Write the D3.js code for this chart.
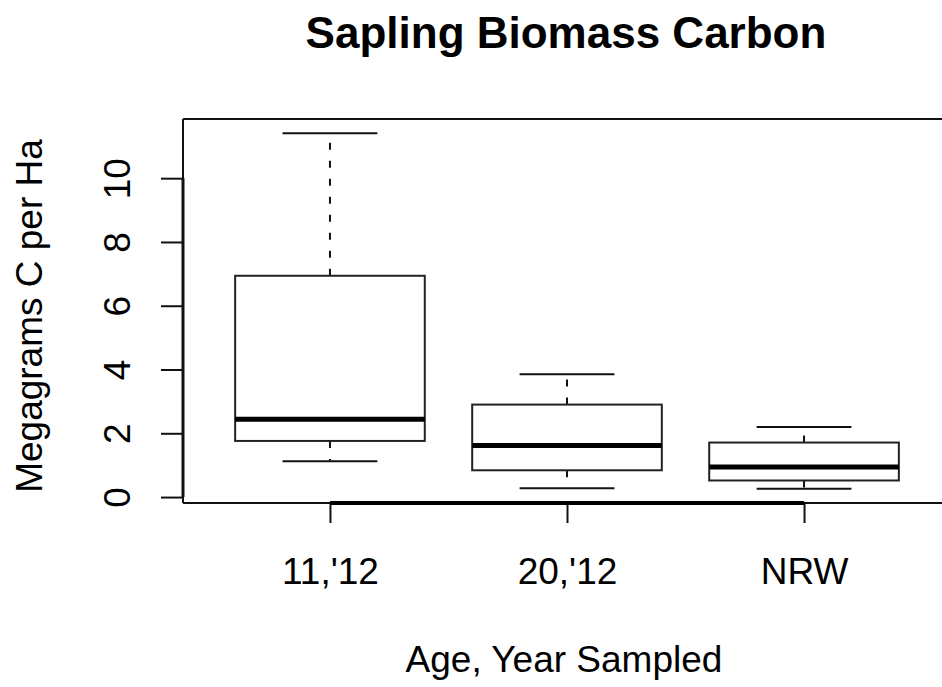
<!DOCTYPE html>
<html>
<head>
<meta charset="utf-8">
<script src="https://cdn.jsdelivr.net/npm/d3@7"></script>
<style>
  html, body { margin: 0; padding: 0; background: #fff; }
  svg { display: block; font-family: "Liberation Sans", Arial, Helvetica, sans-serif; }
</style>
</head>
<body>
<svg id="chart" width="942" height="687"></svg>
<script>
// ---- data ----
const categories = ["11,'12", "20,'12", "NRW"];
const whiskerLow  = [1.12, 0.28, 0.26];
const q1          = [1.76, 0.84, 0.52];
const median      = [2.44, 1.62, 0.94];
const q3          = [6.94, 2.90, 1.71];
const whiskerHigh = [11.41, 3.85, 2.20];
const yTicks = [0, 2, 4, 6, 8, 10];
const titleText = "Sapling Biomass Carbon";
const xTitle = "Age, Year Sampled";
const yTitle = "Megagrams C per Ha";

// ---- layout ----
const W = 942, H = 687;
const plotLeft = 183, plotRight = 951, plotTop = 119, plotBottom = 503;
const ink = "#111";

const svg = d3.select("#chart");

// R-style scales: 4% extension
const n = categories.length;
const x = d3.scaleLinear()
  .domain([0.5 - 0.04 * n, n + 0.5 + 0.04 * n])
  .range([plotLeft, plotRight]);

const yMin = d3.min(whiskerLow), yMax = d3.max(whiskerHigh);
const ext = 0.04 * (yMax - yMin);
const y = d3.scaleLinear()
  .domain([yMin - ext, yMax + ext])
  .range([plotBottom, plotTop]);

const data = categories.map((c, i) => ({
  cat: c, pos: i + 1,
  lo: whiskerLow[i], q1: q1[i], med: median[i], q3: q3[i], hi: whiskerHigh[i]
}));

const boxHalf = 0.4;   // boxwex 0.8
const stapleHalf = 0.2;

// ---- frame (box around plot) ----
const frame = svg.append("g").attr("stroke", ink).attr("fill", "none").attr("stroke-width", 2);
frame.append("line").attr("x1", plotLeft).attr("x2", plotRight).attr("y1", plotTop).attr("y2", plotTop);
frame.append("line").attr("x1", plotLeft).attr("x2", plotLeft).attr("y1", plotTop).attr("y2", plotBottom);
frame.append("line").attr("x1", plotLeft).attr("x2", plotRight).attr("y1", plotBottom).attr("y2", plotBottom);
frame.append("line").attr("x1", plotRight).attr("x2", plotRight).attr("y1", plotTop).attr("y2", plotBottom);

// ---- boxes ----
const g = svg.append("g").selectAll("g").data(data).join("g");

// whiskers (dashed)
g.append("line")
  .attr("x1", d => x(d.pos)).attr("x2", d => x(d.pos))
  .attr("y1", d => y(d.q3)).attr("y2", d => y(d.hi))
  .attr("stroke", ink).attr("stroke-width", 2).attr("stroke-dasharray", "7,11");
g.append("line")
  .attr("x1", d => x(d.pos)).attr("x2", d => x(d.pos))
  .attr("y1", d => y(d.q1)).attr("y2", d => y(d.lo))
  .attr("stroke", ink).attr("stroke-width", 2).attr("stroke-dasharray", "7,11");
// staples
g.append("line")
  .attr("x1", d => x(d.pos - stapleHalf)).attr("x2", d => x(d.pos + stapleHalf))
  .attr("y1", d => y(d.hi)).attr("y2", d => y(d.hi))
  .attr("stroke", ink).attr("stroke-width", 2);
g.append("line")
  .attr("x1", d => x(d.pos - stapleHalf)).attr("x2", d => x(d.pos + stapleHalf))
  .attr("y1", d => y(d.lo)).attr("y2", d => y(d.lo))
  .attr("stroke", ink).attr("stroke-width", 2);
// box
g.append("rect")
  .attr("x", d => x(d.pos - boxHalf))
  .attr("width", d => x(d.pos + boxHalf) - x(d.pos - boxHalf))
  .attr("y", d => y(d.q3))
  .attr("height", d => y(d.q1) - y(d.q3))
  .attr("fill", "#fff").attr("stroke", "#222").attr("stroke-width", 2);
// median
g.append("line")
  .attr("x1", d => x(d.pos - boxHalf)).attr("x2", d => x(d.pos + boxHalf))
  .attr("y1", d => y(d.med)).attr("y2", d => y(d.med))
  .attr("stroke", "#000").attr("stroke-width", 5);

// ---- y axis ----
const yAxis = d3.axisLeft(y).tickValues(yTicks).tickSize(22).tickFormat(d3.format("d"));
const yg = svg.append("g").attr("transform", `translate(${plotLeft},0)`).call(yAxis);
yg.select(".domain").remove();
yg.selectAll(".tick line").attr("stroke", ink).attr("stroke-width", 2);
yg.selectAll(".tick text")
  .attr("x", null).attr("dy", null)
  .attr("transform", "translate(-53,0) rotate(-90)")
  .attr("text-anchor", "middle")
  .attr("fill", "#000")
  .style("font-size", "37px").style("font-family", "'Liberation Sans', Arial, sans-serif");
svg.append("line")
  .attr("x1", plotLeft).attr("x2", plotLeft)
  .attr("y1", y(yTicks[0])).attr("y2", y(yTicks[yTicks.length - 1]))
  .attr("stroke", ink).attr("stroke-width", 3);

// ---- x axis ----
const xAxis = d3.axisBottom(x).tickValues(data.map(d => d.pos)).tickSize(20)
  .tickFormat(d => categories[d - 1]);
const xg = svg.append("g").attr("transform", `translate(0,${plotBottom})`).call(xAxis);
xg.select(".domain").remove();
xg.selectAll(".tick line").attr("stroke", ink).attr("stroke-width", 2);
xg.selectAll(".tick text")
  .attr("y", 81).attr("dy", null)
  .attr("fill", "#000")
  .style("font-size", "37px").style("font-family", "'Liberation Sans', Arial, sans-serif");
svg.append("line")
  .attr("x1", x(1)).attr("x2", x(n))
  .attr("y1", plotBottom).attr("y2", plotBottom)
  .attr("stroke", "#000").attr("stroke-width", 4);

// ---- titles ----
svg.append("text")
  .attr("x", 566).attr("y", 48)
  .attr("text-anchor", "middle")
  .style("font-size", "44px").style("font-weight", "bold")
  .attr("fill", "#000")
  .text(titleText);

svg.append("text")
  .attr("x", 564).attr("y", 672)
  .attr("text-anchor", "middle")
  .style("font-size", "37px")
  .attr("fill", "#000")
  .text(xTitle);

svg.append("text")
  .attr("transform", "translate(42,316) rotate(-90)")
  .attr("text-anchor", "middle")
  .style("font-size", "37px")
  .attr("fill", "#000")
  .text(yTitle);
</script>
</body>
</html>
